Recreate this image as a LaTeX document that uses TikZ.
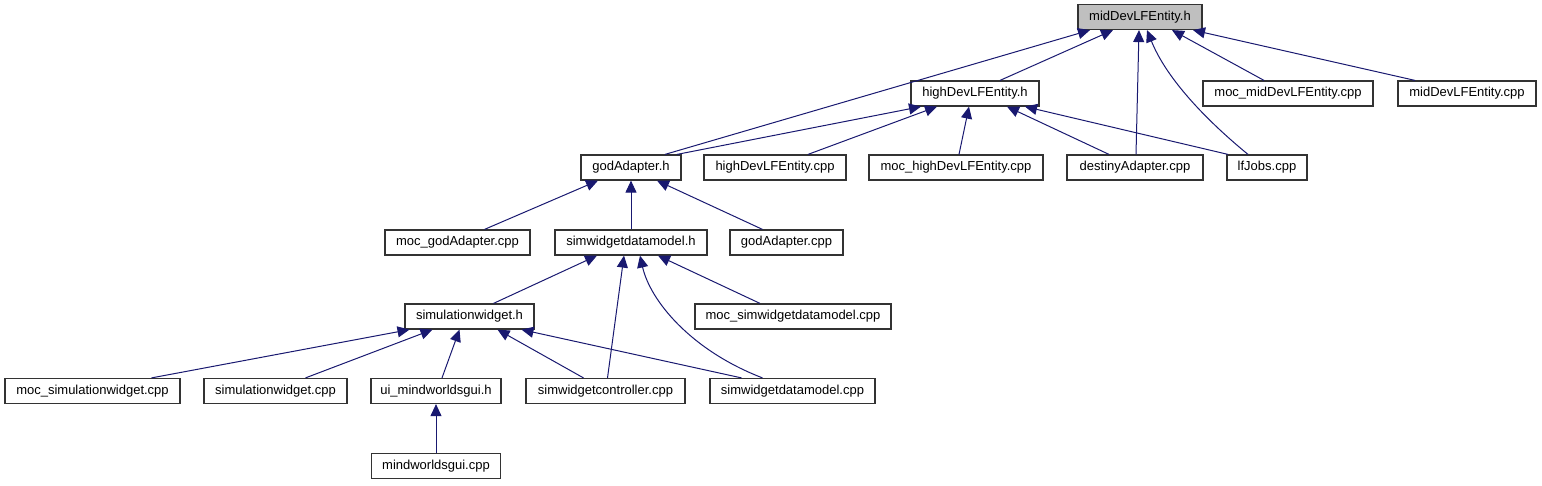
\documentclass[tikz,border=0pt]{standalone}
\usepackage{fontspec}
\setmainfont{Liberation Sans}
\usetikzlibrary{arrows.meta}
\definecolor{edgecol}{HTML}{191970}
\definecolor{rootfill}{HTML}{BFBFBF}
\begin{document}
\begin{tikzpicture}[x=1pt,y=-1pt,
  box/.style={draw=black!80, line width=1.2pt, fill=white, inner sep=0pt, minimum height=25pt,
    font=\fontsize{13}{15}\selectfont},
  rootbox/.style={box, fill=rootfill},
  edge/.style={draw=edgecol, line width=1pt, -{Triangle[length=12pt,width=11pt,fill=edgecol]}}]
\useasboundingbox (0,0) rectangle (1542,485);
% nodes
\node[rootbox, minimum width=124pt] (root) at (1140,17) {midDevLFEntity.h};
\node[box, minimum width=128pt] (highh) at (975,93.5) {highDevLFEntity.h};
\node[box, minimum width=170pt] (mocmid) at (1288,93.5) {moc\_midDevLFEntity.cpp};
\node[box, minimum width=138pt] (midcpp) at (1467,93.5) {midDevLFEntity.cpp};
\node[box, minimum width=100pt] (godh) at (631,167.5) {godAdapter.h};
\node[box, minimum width=142pt] (highcpp) at (775,167.5) {highDevLFEntity.cpp};
\node[box, minimum width=174pt] (mochigh) at (956,167.5) {moc\_highDevLFEntity.cpp};
\node[box, minimum width=136pt] (destiny) at (1135,167.5) {destinyAdapter.cpp};
\node[box, minimum width=80pt] (lfjobs) at (1267,167.5) {lfJobs.cpp};
\node[box, minimum width=145pt] (mocgod) at (457.5,242.5) {moc\_godAdapter.cpp};
\node[box, minimum width=152pt] (swdmh) at (631,242.5) {simwidgetdatamodel.h};
\node[box, minimum width=113pt] (godcpp) at (786.5,242.5) {godAdapter.cpp};
\node[box, minimum width=129pt] (simwh) at (469.5,316.5) {simulationwidget.h};
\node[box, minimum width=196pt] (mocswdm) at (793,316.5) {moc\_simwidgetdatamodel.cpp};
\node[box, minimum width=175pt] (mocsimw) at (92.5,391) {moc\_simulationwidget.cpp};
\node[box, minimum width=143pt] (simwcpp) at (275.5,391) {simulationwidget.cpp};
\node[box, minimum width=130pt] (ui) at (436,391) {ui\_mindworldsgui.h};
\node[box, minimum width=159pt] (swctrl) at (605.5,391) {simwidgetcontroller.cpp};
\node[box, minimum width=165pt] (swdmcpp) at (792.5,391) {simwidgetdatamodel.cpp};
\node[box, minimum width=129pt] (mwgcpp) at (436,466) {mindworldsgui.cpp};
% edges to root
\draw[edge] ([xshift=34pt]godh.north) -- ([xshift=-50pt]root.south);
\draw[edge] ([xshift=25pt]highh.north) -- ([xshift=-27pt]root.south);
\draw[edge] ([xshift=1pt]destiny.north) -- ([xshift=-1pt]root.south);
\draw[edge] ([xshift=-19pt]lfjobs.north) .. controls (1200,115) and (1165,75) .. ([xshift=7pt]root.south);
\draw[edge] ([xshift=-24pt]mocmid.north) -- ([xshift=32pt]root.south);
\draw[edge] ([xshift=-52pt]midcpp.north) -- ([xshift=53pt]root.south);
% edges to highDevLFEntity.h
\draw[edge] ([xshift=46pt]godh.north) -- ([xshift=-54pt]highh.south);
\draw[edge] ([xshift=33pt]highcpp.north) -- ([xshift=-38pt]highh.south);
\draw[edge] ([xshift=3pt]mochigh.north) -- ([xshift=-6pt]highh.south);
\draw[edge] ([xshift=-26pt]destiny.north) -- ([xshift=32pt]highh.south);
\draw[edge] ([xshift=-39pt]lfjobs.north) -- ([xshift=50pt]highh.south);
% edges to godAdapter.h
\draw[edge] ([xshift=27pt]mocgod.north) -- ([xshift=-33pt]godh.south);
\draw[edge] (swdmh.north) -- (godh.south);
\draw[edge] ([xshift=-24pt]godcpp.north) -- ([xshift=26pt]godh.south);
% edges to simwidgetdatamodel.h
\draw[edge] ([xshift=24pt]simwh.north) -- ([xshift=-34pt]swdmh.south);
\draw[edge] ([xshift=2pt]swctrl.north) -- ([xshift=-7pt]swdmh.south);
\draw[edge] ([xshift=-30pt]swdmcpp.north) .. controls (690,350) and (650,300) .. ([xshift=9pt]swdmh.south);
\draw[edge] ([xshift=-33pt]mocswdm.north) -- ([xshift=27pt]swdmh.south);
% edges to simulationwidget.h
\draw[edge] ([xshift=59pt]mocsimw.north) -- ([xshift=-60pt]simwh.south);
\draw[edge] ([xshift=30pt]simwcpp.north) -- ([xshift=-37pt]simwh.south);
\draw[edge] ([xshift=6pt]ui.north) -- ([xshift=-10pt]simwh.south);
\draw[edge] ([xshift=-22pt]swctrl.north) -- ([xshift=28pt]simwh.south);
\draw[edge] ([xshift=-51pt]swdmcpp.north) -- ([xshift=52pt]simwh.south);
% edge to ui_mindworldsgui.h
\draw[edge] (mwgcpp.north) -- (ui.south);
\end{tikzpicture}
\end{document}
